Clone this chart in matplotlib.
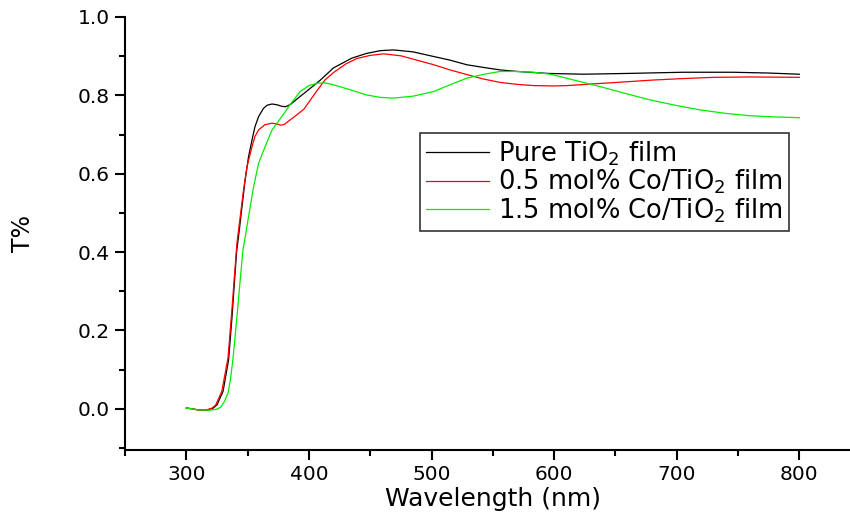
import matplotlib
matplotlib.use("Agg")
import matplotlib.pyplot as plt
from matplotlib.ticker import FixedLocator, MultipleLocator, FormatStrFormatter

plt.rcParams['font.family'] = ['DejaVu Sans']
plt.rcParams['mathtext.fontset'] = 'dejavusans'

# ---- data ----
wl_pure = [300, 305, 310, 318, 322, 325, 330, 334.5, 337.3, 341, 343, 345.4, 348, 350.8,
           353.6, 356, 359, 363, 366, 370, 374, 378, 381, 385, 390, 396, 409, 420, 435,
           447, 458, 469, 485, 502, 515, 529, 543, 556, 570, 595, 624, 660, 705, 746,
           775, 800]
t_pure = [0.002, 0.000, -0.003, -0.003, 0.002, 0.010, 0.045, 0.125, 0.235, 0.400, 0.450,
          0.516, 0.584, 0.644, 0.686, 0.720, 0.746, 0.767, 0.775, 0.778, 0.776, 0.772,
          0.771, 0.777, 0.790, 0.805, 0.838, 0.870, 0.895, 0.907, 0.914, 0.916, 0.911,
          0.899, 0.890, 0.878, 0.871, 0.865, 0.861, 0.856, 0.854, 0.856, 0.859, 0.859,
          0.857, 0.854]

wl_co05 = [300, 305, 310, 316, 321, 324, 329, 334, 337, 341.3, 344, 346.7, 349.5, 353.6,
           356, 359, 364, 370, 374, 377, 380, 385, 390, 396, 405, 413, 420, 430, 439,
           450, 461, 475, 488, 502, 515, 529, 542, 556, 570, 583, 600, 611, 630, 651,
           680, 706, 730, 760, 800]
t_co05 = [0.002, 0.000, -0.003, -0.003, 0.002, 0.010, 0.045, 0.130, 0.245, 0.423, 0.491,
          0.559, 0.618, 0.669, 0.695, 0.712, 0.725, 0.729, 0.727, 0.724, 0.726, 0.738,
          0.750, 0.765, 0.805, 0.839, 0.858, 0.880, 0.894, 0.902, 0.906, 0.901, 0.890,
          0.878, 0.865, 0.853, 0.842, 0.833, 0.828, 0.825, 0.824, 0.825, 0.829, 0.833,
          0.839, 0.843, 0.846, 0.847, 0.846]

wl_co15 = [300, 305, 310, 320, 325, 328, 331, 334, 336, 338, 341.3, 344, 346.2, 347.6,
           350.8, 354.9, 359, 365, 370, 374, 380, 385, 393, 400, 407, 413, 420, 433, 447,
           458, 469, 485, 502, 515, 529, 543, 556, 570, 583, 597, 615, 638, 658, 679,
           700, 719, 740, 760, 780, 800]
t_co15 = [0.002, 0.000, -0.003, -0.003, -0.001, 0.004, 0.018, 0.040, 0.075, 0.125, 0.235,
          0.330, 0.406, 0.430, 0.491, 0.567, 0.627, 0.675, 0.712, 0.729, 0.755, 0.778,
          0.810, 0.825, 0.831, 0.832, 0.827, 0.815, 0.801, 0.795, 0.793, 0.798, 0.810,
          0.827, 0.844, 0.854, 0.861, 0.861, 0.859, 0.854, 0.840, 0.822, 0.805, 0.788,
          0.774, 0.763, 0.754, 0.748, 0.745, 0.743]

labels = ["Pure TiO$_2$ film", "0.5 mol% Co/TiO$_2$ film", "1.5 mol% Co/TiO$_2$ film"]
colors = ["black", "#ff0000", "#00ee00"]

x_major = [300, 400, 500, 600, 700, 800]

# ---- figure ----
fig = plt.figure(figsize=(8.5, 5.19), dpi=100)
ax = fig.add_axes([125/850, 69/519, 725/850, 433/519])

for wl, t, lab, c in zip([wl_pure, wl_co05, wl_co15], [t_pure, t_co05, t_co15], labels, colors):
    ax.plot(wl, t, color=c, lw=0.9, label=lab)

ax.set_xlim(250, 250 + 725/1.226)
ax.set_ylim(-0.105, 1.0)

ax.xaxis.set_major_locator(FixedLocator(x_major))
ax.xaxis.set_minor_locator(MultipleLocator(50))
ax.yaxis.set_major_locator(MultipleLocator(0.2))
ax.yaxis.set_minor_locator(MultipleLocator(0.1))
ax.yaxis.set_major_formatter(FormatStrFormatter('%.1f'))

for s in ['top', 'right']:
    ax.spines[s].set_visible(False)
for s in ['left', 'bottom']:
    ax.spines[s].set_linewidth(1.5)

ax.tick_params(which='major', direction='out', length=7, width=1.5, labelsize=14.5, pad=4)
ax.tick_params(which='minor', direction='out', length=4, width=1.5)

ax.set_xlabel("Wavelength (nm)", fontsize=18)
ax.xaxis.set_label_coords(0.507, -0.085)
ax.set_ylabel("T%", fontsize=17)
ax.yaxis.set_label_coords(-0.124, 0.5)

leg = ax.legend(loc='upper left', bbox_to_anchor=(420/850, 1 - 133/519),
                bbox_transform=fig.transFigure, borderaxespad=0, fontsize=18.5,
                frameon=True, fancybox=False, handlelength=2.45, handletextpad=0.35,
                labelspacing=0.0, borderpad=0.25)
leg.get_frame().set_edgecolor('black')
leg.get_frame().set_linewidth(1.2)

fig.savefig("out.png", dpi=100)
